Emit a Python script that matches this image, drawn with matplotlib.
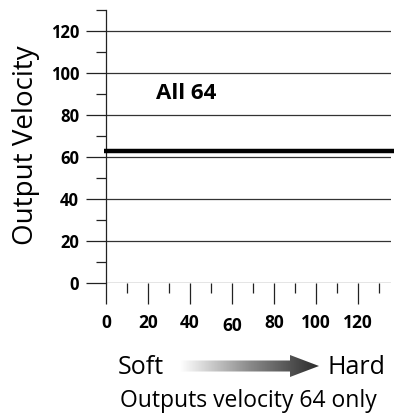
import numpy as np
import matplotlib
matplotlib.use("Agg")
import matplotlib.pyplot as plt
import matplotlib.transforms as mtransforms
from matplotlib.colors import LinearSegmentedColormap
from matplotlib.patches import Polygon

# chart data
x_major = [0, 20, 40, 60, 80, 100, 120]
x_minor = [10, 30, 50, 70, 90, 110, 130]
y_major = [0, 20, 40, 60, 80, 100, 120]
y_minor = [10, 30, 50, 70, 90, 110, 130]
line_x = [-1, 137]
line_y = [63, 63]
label_text = "All 64"
y_title = "Output Velocity"
caption = "Outputs velocity 64 only"

plt.rcParams['font.family'] = ['Open Sans', 'DejaVu Sans']

W, H = 404, 418
fig = plt.figure(figsize=(W / 100, H / 100), dpi=100)

def fx(px):
    return px / W

def fy(py):
    return (H - py) / H

# main axes: data 0 at px 106, 2.1 px per unit
ax = fig.add_axes([fx(106), fy(283), (390.5 - 106) / W, (283 - 10) / H])
ax.set_xlim(0, 135.5)
ax.set_ylim(0, 130)

for s in ['top', 'right', 'bottom']:
    ax.spines[s].set_visible(False)
ax.spines['left'].set_color('#222222')
ax.spines['left'].set_linewidth(0.9)

ax.set_yticks(y_major)
ax.set_yticks(y_minor, minor=True)
ax.set_xticks(x_major)
ax.set_xticks(x_minor, minor=True)

ax.tick_params(axis='y', which='major', length=14.4, width=0.9, color='#222222',
               pad=5, labelsize=12)
ax.tick_params(axis='y', which='minor', length=7.2, width=0.9, color='#222222')
ax.tick_params(axis='x', which='major', length=15, width=0.9, color='#222222',
               pad=7, labelsize=12.5)
ax.tick_params(axis='x', which='minor', length=7.2, width=0.9, color='#222222')
for lab in ax.get_xticklabels() + ax.get_yticklabels():
    lab.set_fontweight('bold')

# the 60 label sits a little lower in the original
lab60 = ax.get_xticklabels()[3]
lab60.set_transform(lab60.get_transform() +
                    mtransforms.ScaledTranslation(0, -3 / 100, fig.dpi_scale_trans))

ax.yaxis.grid(True, which='major', color='#333333', linewidth=0.9)
ax.set_axisbelow(True)

ax.plot(line_x, line_y, color='black', linewidth=3.2, solid_capstyle='butt',
        clip_on=False, zorder=5)

ax.text(24, 87.6, label_text, fontsize=16, fontweight='bold', ha='left', va='baseline')

fig.text(fx(26), fy(145), y_title, rotation=90, fontsize=20, ha='center', va='center')

# bottom annotation
fig.text(fx(118), fy(374), "Soft", fontsize=18, ha='left', va='baseline')
fig.text(fx(328), fy(374), "Hard", fontsize=18, ha='left', va='baseline')
fig.text(fx(248), fy(407), caption, fontsize=16.5, ha='center', va='baseline')

# gradient arrow
ax2 = fig.add_axes([fx(180), fy(378), 140 / W, 24 / H])
ax2.set_xlim(0, 140)
ax2.set_ylim(0, 24)
ax2.axis('off')
cmap = LinearSegmentedColormap.from_list('grad', ['#ffffff', '#8a8a8a', '#2a2a2a'])
grad = np.linspace(0, 1, 256).reshape(1, -1)
im = ax2.imshow(grad, cmap=cmap, extent=[0, 140, 0, 24], aspect='auto')
arrow = Polygon([[0, 6.5], [110, 6.5], [110, 1], [139, 12], [110, 23], [110, 17.5], [0, 17.5]],
                closed=True, transform=ax2.transData, facecolor='none', edgecolor='none')
ax2.add_patch(arrow)
im.set_clip_path(arrow)

fig.savefig("out.png", dpi=100)
